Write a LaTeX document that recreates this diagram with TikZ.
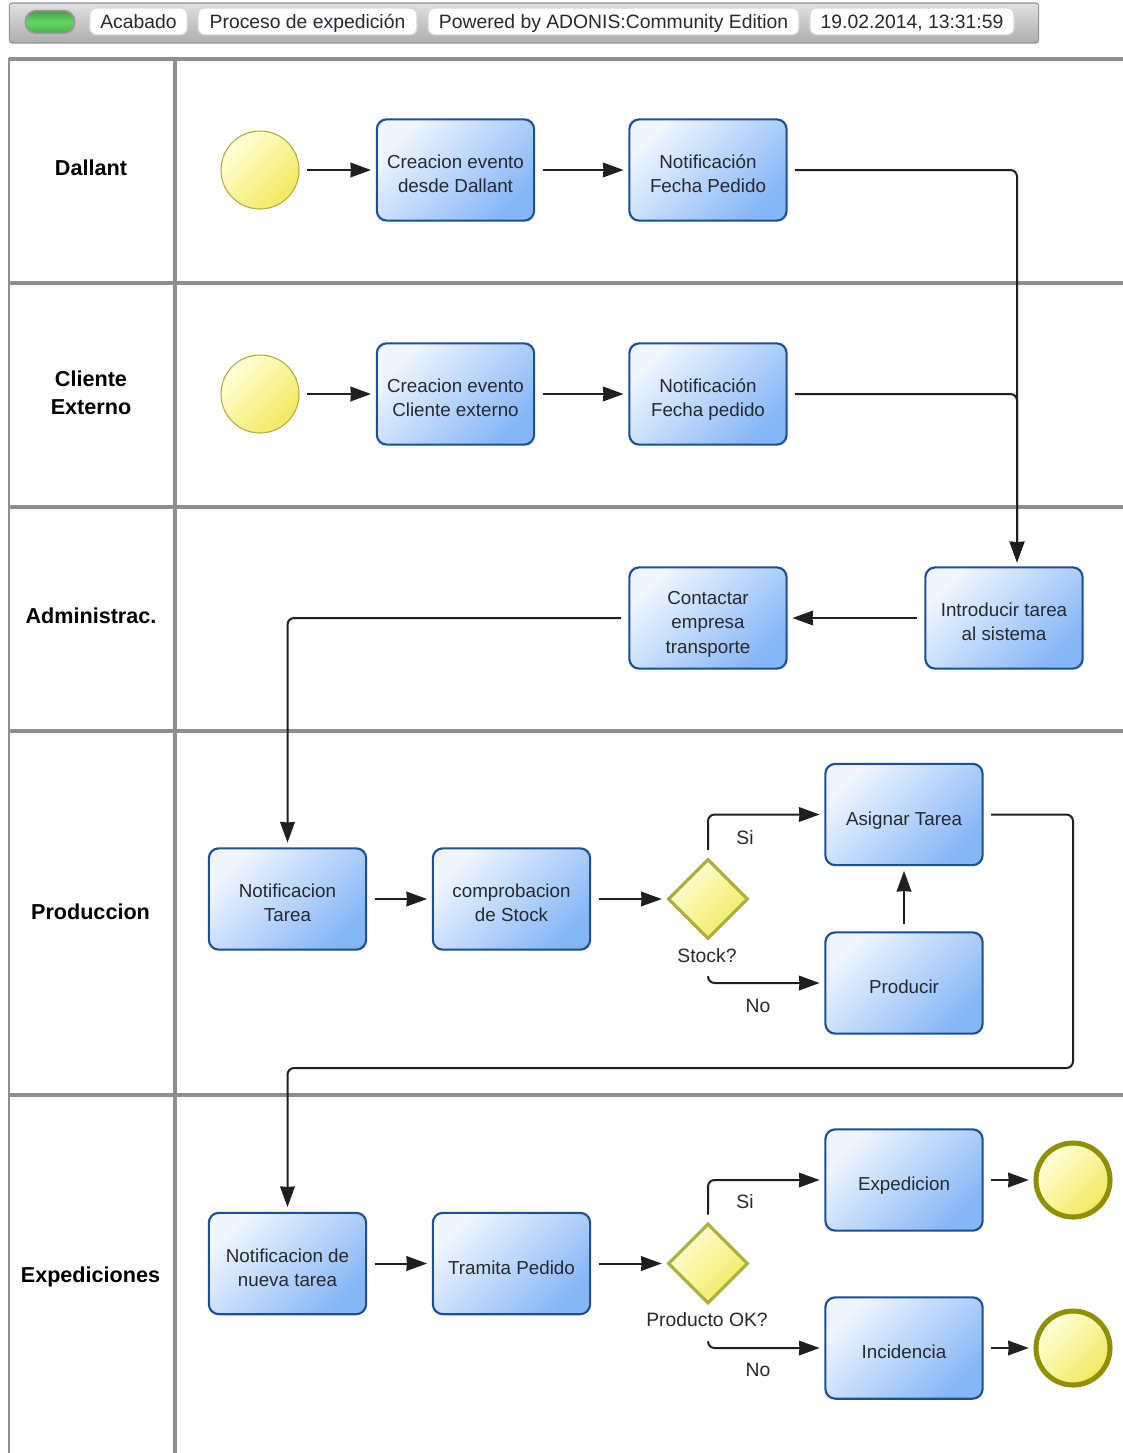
\documentclass[tikz,border=0pt]{standalone}
\usepackage{fontspec}
\setmainfont{Liberation Sans}
\usetikzlibrary{arrows.meta,shapes.geometric}
\definecolor{lanegray}{HTML}{8E8E8E}
\definecolor{boxedge}{HTML}{1C4F96}
\definecolor{olive}{HTML}{8F8F00}
\definecolor{boxlight}{HTML}{F0F6FF}
\definecolor{boxdeep}{HTML}{86B6F6}
\definecolor{evlight}{HTML}{FFFFD8}
\definecolor{evdeep}{HTML}{F2EA5E}
\definecolor{gateedge}{HTML}{AEAE40}
\definecolor{txt}{HTML}{262A30}
\newcommand{\tl}[1]{\vbox{\kern 9pt\hbox{\begin{tabular}{@{}c@{}}#1\end{tabular}}}}
\tikzset{
  x=0.75pt,y=-0.75pt,
  lane/.style={draw=lanegray,line width=2.7pt},
  laneedge/.style={draw=lanegray,line width=1.6pt},
  bx/.style={rectangle,rounded corners=7.5pt,draw=boxedge,line width=1.6pt,
    left color=boxlight,right color=boxdeep,shading angle=45,
    minimum width=118pt,minimum height=76pt,inner sep=0pt,text=txt,
    font=\fontsize{14.1}{18.2}\selectfont},
  startev/.style={circle,draw=gateedge,line width=.8pt,left color=evlight,right color=evdeep,
    shading angle=45,minimum size=58.5pt,inner sep=0pt},
  endev/.style={circle,draw=olive,line width=3.8pt,left color=evlight,right color=evdeep,
    shading angle=45,minimum size=55.5pt,inner sep=0pt},
  gate/.style={diamond,aspect=1,draw=gateedge,line width=2.4pt,left color=evlight,right color=evdeep,
    shading angle=45,minimum width=60pt,minimum height=60pt,inner sep=0pt},
  flow/.style={draw=black!88,line width=1.5pt,rounded corners=5pt,shorten <=5.5pt,shorten >=3.5pt,
    -{Stealth[length=15.5pt,width=11pt,inset=.4pt]}},
  lanelab/.style={font=\fontsize{16.2}{21}\selectfont\bfseries,align=center,text=black,inner sep=0pt},
  edgelab/.style={font=\fontsize{14.5}{18}\selectfont,text=txt,inner sep=0pt},
  barbg/.style={rectangle,rounded corners=2pt,top color=black!12,bottom color=black!32,draw=black!42,line width=.8pt,inner sep=0pt},
  chip/.style={rectangle,rounded corners=5pt,fill=white,draw=black!15,line width=.8pt,minimum height=20pt,inner sep=0pt,
    text height=13pt,text depth=3pt,font=\fontsize{14.5}{16}\selectfont,text=txt},
  pill/.style={rectangle,rounded corners=8pt,top color=green!45!black!70,bottom color=green!55!black!70,draw=black!40,line width=1.2pt,
    middle color=green!55!white!85!black,minimum width=37pt,minimum height=17pt,inner sep=0pt},
}
\begin{document}
\begin{tikzpicture}
\useasboundingbox[fill=white] (0,0) rectangle (1123,1453);
% title bar
\node[barbg,minimum width=772pt,minimum height=30pt] (bar) at (524,23) {};
\node[pill] (led) at (50,22) {};
\node[chip,minimum width=73pt] (c1) at (138.5,21.5) {Acabado};
\node[chip,minimum width=164pt] (c2) at (307.5,21.5) {Proceso de expedición};
\node[chip,minimum width=278pt] (c3) at (613.5,21.5) {Powered by ADONIS:Community Edition};
\node[chip,minimum width=153pt] (c4) at (912,21.5) {19.02.2014, 13:31:59};
% lanes
\draw[lane] (9,59) -- (1123,59);
\draw[lane] (9,283) -- (1123,283);
\draw[lane] (9,507) -- (1123,507);
\draw[lane] (9,731) -- (1123,731);
\draw[lane] (9,1095) -- (1123,1095);
\draw[laneedge] (9,58) -- (9,1453);
\draw[lane] (175,58) -- (175,1453);
\node[lanelab] (l1) at (91,168) {Dallant};
\node[lanelab] (l2) at (91,393) {Cliente\\Externo};
\node[lanelab] (l3) at (91,616) {Administrac.};
\node[lanelab] (l4) at (90.5,912) {Produccion};
\node[lanelab] (l5) at (90.5,1277) {Expediciones};
% row 1
\node[startev] (s1) at (260,170) {};
\node[bx] (a1) at (455.5,170) {\tl{Creacion evento\\desde Dallant}};
\node[bx] (a2) at (708,170) {\tl{Notificación\\Fecha Pedido}};
% row 2
\node[startev] (s2) at (260,394) {};
\node[bx] (b1) at (455.5,394) {\tl{Creacion evento\\Cliente externo}};
\node[bx] (b2) at (708,394) {\tl{Notificación\\Fecha pedido}};
% row 3
\node[bx] (c5) at (708,618) {\tl{Contactar\\empresa\\transporte}};
\node[bx] (intro) at (1004,618) {\tl{Introducir tarea\\al sistema}};
% row 4
\node[bx] (p1) at (287.5,899) {\tl{Notificacion\\Tarea\hspace{6pt}}};
\node[bx] (p2) at (511.5,899) {\tl{comprobacion\\de Stock}};
\node[gate] (g1) at (708,899) {};
\node[bx] (as) at (904,814.5) {\tl{Asignar Tarea}};
\node[bx] (pr) at (904,983) {\tl{Producir}};
% row 5
\node[bx] (e1) at (287.5,1263.5) {\tl{Notificacion de\\nueva tarea}};
\node[bx] (e2) at (511.5,1263.5) {\tl{Tramita Pedido}};
\node[gate] (g2) at (708,1263.5) {};
\node[bx] (ex) at (904,1180) {\tl{Expedicion}};
\node[bx] (in) at (904,1348) {\tl{Incidencia}};
\node[endev] (z1) at (1073,1180) {};
\node[endev] (z2) at (1073,1348) {};
% edge labels
\node[edgelab] (t1) at (745,838) {Si};
\node[edgelab] (t2) at (707,956) {Stock?};
\node[edgelab] (t3) at (758,1006) {No};
\node[edgelab] (t4) at (745,1202) {Si};
\node[edgelab] (t5) at (707,1320) {Producto OK?};
\node[edgelab] (t6) at (758,1370) {No};
% helper coordinates
\coordinate (intoin) at (1017,567);
\coordinate (r1) at (1073,814.5);
\coordinate (r2) at (1073,1068);
\coordinate (g1no) at (708,970);
\coordinate (g2no) at (708,1334);
% connectors
\draw[flow] (s1) -- (a1);
\draw[flow] (a1) -- (a2);
\draw[flow] (a2.east) -| (intoin);
\draw[flow] (s2) -- (b1);
\draw[flow] (b1) -- (b2);
\draw[flow] (b2.east) -| (intoin);
\draw[flow] (intro) -- (c5);
\draw[flow] (c5.west) -| (p1.north);
\draw[flow] (p1) -- (p2);
\draw[flow] (p2) -- (g1);
\draw[flow] (g1.north) |- (as.west);
\draw[flow] (g1no) |- (pr.west);
\draw[flow] (pr) -- (as);
\draw[flow] (as.east) -- (r1) -- (r2) -| (e1.north);
\draw[flow] (e1) -- (e2);
\draw[flow] (e2) -- (g2);
\draw[flow] (g2.north) |- (ex.west);
\draw[flow] (g2no) |- (in.west);
\draw[flow] (ex) -- (z1);
\draw[flow] (in) -- (z2);
\end{tikzpicture}
\end{document}
